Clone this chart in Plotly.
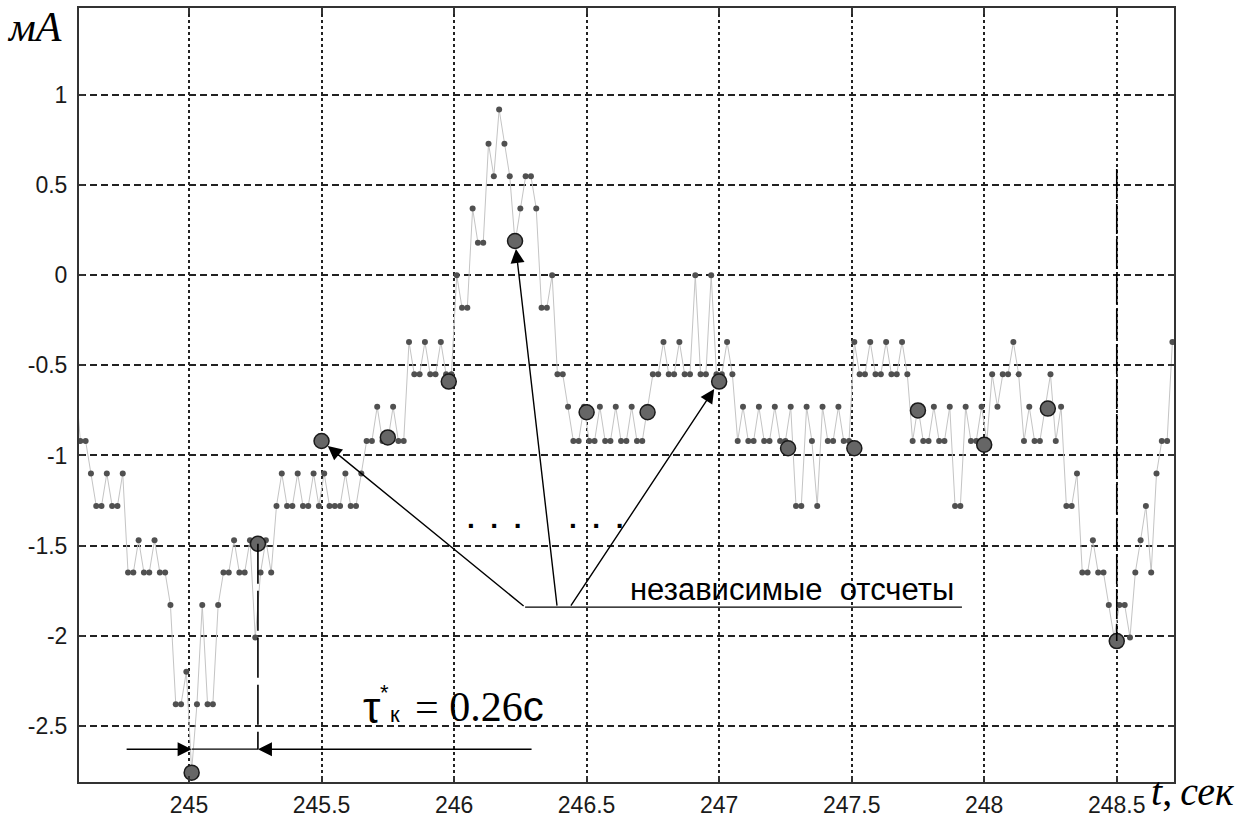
import numpy as np
import plotly.graph_objects as go

T0 = 244.57
DT = 0.02
current = [
    -0.55, -0.92, -0.92, -1.10, -1.28, -1.28, -1.10, -1.28, -1.28, -1.10,
    -1.65, -1.65, -1.47, -1.65, -1.65, -1.47, -1.65, -1.65, -1.83, -2.38,
    -2.38, -2.20, -2.75, -2.38, -1.83, -2.38, -2.38, -1.83, -1.65, -1.65,
    -1.47, -1.65, -1.65, -1.47, -2.01, -1.65, -1.47, -1.65, -1.28, -1.10,
    -1.28, -1.28, -1.10, -1.28, -1.28, -1.10, -1.28, -1.10, -1.28, -1.28,
    -1.28, -1.10, -1.28, -1.28, -1.10, -0.92, -0.92, -0.73, -0.92, -0.92,
    -0.73, -0.92, -0.92, -0.37, -0.55, -0.55, -0.37, -0.55, -0.55, -0.37,
    -0.55, -0.55, 0.00, -0.18, -0.18, 0.37, 0.18, 0.18, 0.73, 0.55,
    0.92, 0.73, 0.55, 0.18, 0.37, 0.55, 0.55, 0.37, -0.18, -0.18,
    0.00, -0.55, -0.55, -0.73, -0.92, -0.92, -0.73, -0.92, -0.92, -0.73,
    -0.92, -0.92, -0.73, -0.92, -0.92, -0.73, -0.92, -0.92, -0.73, -0.55,
    -0.55, -0.37, -0.55, -0.55, -0.37, -0.55, -0.55, 0.00, -0.55, -0.55,
    0.00, -0.55, -0.55, -0.37, -0.55, -0.92, -0.73, -0.92, -0.92, -0.73,
    -0.92, -0.92, -0.73, -0.92, -0.92, -0.73, -1.28, -1.28, -0.73, -0.92,
    -1.28, -0.73, -0.92, -0.92, -0.73, -0.92, -0.92, -0.37, -0.55, -0.55,
    -0.37, -0.55, -0.55, -0.37, -0.55, -0.55, -0.37, -0.55, -0.92, -0.73,
    -0.92, -0.92, -0.73, -0.92, -0.92, -0.73, -1.28, -1.28, -0.73, -0.92,
    -0.92, -0.73, -0.92, -0.55, -0.73, -0.55, -0.55, -0.37, -0.55, -0.92,
    -0.73, -0.92, -0.92, -0.73, -0.55, -0.92, -0.73, -1.28, -1.28, -1.10,
    -1.65, -1.65, -1.47, -1.65, -1.65, -1.83, -2.01, -1.83, -1.83, -2.01,
    -1.65, -1.47, -1.28, -1.65, -1.10, -0.92, -0.92, -0.37,
]
t = T0 + DT * np.arange(len(current))

# independent samples (big grey dots)
indep_t = [245.01, 245.26, 245.50, 245.75, 245.98, 246.23, 246.50, 246.73,
           247.00, 247.26, 247.51, 247.75, 248.00, 248.24, 248.50]
indep_v = [-2.76, -1.49, -0.92, -0.90, -0.59, 0.19, -0.76, -0.76,
           -0.59, -0.96, -0.96, -0.75, -0.94, -0.74, -2.03]

xticks = [245, 245.5, 246, 246.5, 247, 247.5, 248, 248.5]
xtick_text = ["245", "245.5", "246", "246.5", "247", "247.5", "248", "248.5"]
yticks = [-2.5, -2, -1.5, -1, -0.5, 0, 0.5, 1]
ytick_text = ["-2.5", "-2", "-1.5", "-1", "-0.5", "0", "0.5", "1"]

tau_level = -2.63      # level of the tau arrows
label_level = -1.842   # level of the label underline

fig = go.Figure()
fig.add_trace(go.Scatter(x=t, y=current, mode="lines+markers",
                         line=dict(color="#c4c4c4", width=1),
                         marker=dict(color="#505050", size=6),
                         showlegend=False))
fig.add_trace(go.Scatter(x=indep_t, y=indep_v, mode="markers",
                         marker=dict(color="#666666", size=15,
                                     line=dict(color="#1a1a1a", width=1.5)),
                         showlegend=False))

BLACK = "#000000"
# dashed verticals
fig.add_shape(type="line", x0=indep_t[1], x1=indep_t[1], y0=indep_v[1], y1=tau_level,
              line=dict(color=BLACK, width=1.6, dash="40px,7px"))
fig.add_shape(type="line", x0=indep_t[-1], x1=indep_t[-1], y0=0.59, y1=indep_v[-1],
              line=dict(color=BLACK, width=1.6, dash="30px,5px"))
# tau span line
fig.add_shape(type="line", x0=indep_t[0], x1=indep_t[1], y0=tau_level, y1=tau_level,
              line=dict(color=BLACK, width=1.3))
# label underline
fig.add_shape(type="line", x0=246.268, x1=247.916, y0=label_level, y1=label_level,
              line=dict(color=BLACK, width=1.3))

arrows = [
    dict(x=indep_t[2], y=indep_v[2], ax=246.268, ay=label_level, standoff=8),
    dict(x=indep_t[5], y=indep_v[5], ax=246.389, ay=label_level, standoff=8),
    dict(x=indep_t[8], y=indep_v[8], ax=246.437, ay=label_level, standoff=9),
    dict(x=indep_t[0], y=tau_level, ax=244.759, ay=tau_level, standoff=0),
    dict(x=indep_t[1], y=tau_level, ax=246.298, ay=tau_level, standoff=0),
]
for a in arrows:
    fig.add_annotation(x=a["x"], y=a["y"], ax=a["ax"], ay=a["ay"], xref="x", yref="y",
                       axref="x", ayref="y", text="", showarrow=True,
                       arrowhead=2, arrowsize=2, arrowwidth=1.4, arrowcolor=BLACK,
                       standoff=a["standoff"])

serif = "Liberation Serif"
sans = "Liberation Sans"
fig.add_annotation(x=246.656, y=-1.742, xref="x", yref="y", xanchor="left", yanchor="middle",
                   text="независимые\u00a0\u00a0отсчеты", showarrow=False,
                   font=dict(family=sans, size=31, color=BLACK))
dots = "\u00a0\u00a0".join(["."] * 3)
for xc in [246.151, 246.534]:
    fig.add_annotation(x=xc, y=-1.352, xref="x", yref="y", xanchor="center", yanchor="middle",
                       text="<b>" + dots + "</b>", showarrow=False,
                       font=dict(family=sans, size=28, color=BLACK))

fig.add_annotation(x=245.6885, y=-2.398, xref="x", yref="y", xanchor="center", yanchor="middle",
                   text="τ", showarrow=False, font=dict(family=sans, size=44, color=BLACK))
fig.add_annotation(x=245.738, y=-2.318, xref="x", yref="y", xanchor="center", yanchor="middle",
                   text="*", showarrow=False, font=dict(family=sans, size=22, color=BLACK))
fig.add_annotation(x=245.776, y=-2.438, xref="x", yref="y", xanchor="center", yanchor="middle",
                   text="к", showarrow=False, font=dict(family=sans, size=22, color=BLACK))
fig.add_annotation(x=245.845, y=-2.395, xref="x", yref="y", xanchor="left", yanchor="middle",
                   text="=\u00a00.26<span style='font-family:Liberation Sans'>с</span>",
                   showarrow=False, font=dict(family=serif, size=42, color=BLACK))

fig.add_annotation(x=-0.0406, y=0.976, xref="paper", yref="paper", xanchor="center",
                   yanchor="middle", text="<i>мА</i>", showarrow=False,
                   font=dict(family=serif, size=42, color=BLACK))
fig.add_annotation(x=0.9772, y=-0.0445, xref="paper", yref="paper", xanchor="left",
                   yanchor="bottom", text="<i>t</i>,\u2009<i>сек</i>", showarrow=False,
                   font=dict(family=serif, size=40, color=BLACK))

axis_common = dict(showline=True, linecolor="#333333", linewidth=2, mirror="ticks",
                   ticks="inside", ticklen=6, tickwidth=2, tickcolor="#333333",
                   showgrid=True, gridcolor="#222222", gridwidth=1.7, zeroline=False,
                   automargin=False,
                   tickfont=dict(family=sans, size=23, color="#1a1a1a"))
fig.update_xaxes(range=[244.585, 248.716], tickvals=xticks, ticktext=xtick_text,
                 griddash="3px,3px", ticklabelstandoff=1, **axis_common)
fig.update_yaxes(range=[-2.812, 1.483], tickvals=yticks, ticktext=ytick_text,
                 griddash="7px,4px", ticklabelstandoff=5, **axis_common)

fig.update_layout(width=1253, height=818, margin=dict(l=79, r=79, t=8, b=36),
                  plot_bgcolor="white", paper_bgcolor="white", showlegend=False)

fig.write_html("out.html", config={"displayModeBar": False},
               post_script="document.body.style.margin='0';")
